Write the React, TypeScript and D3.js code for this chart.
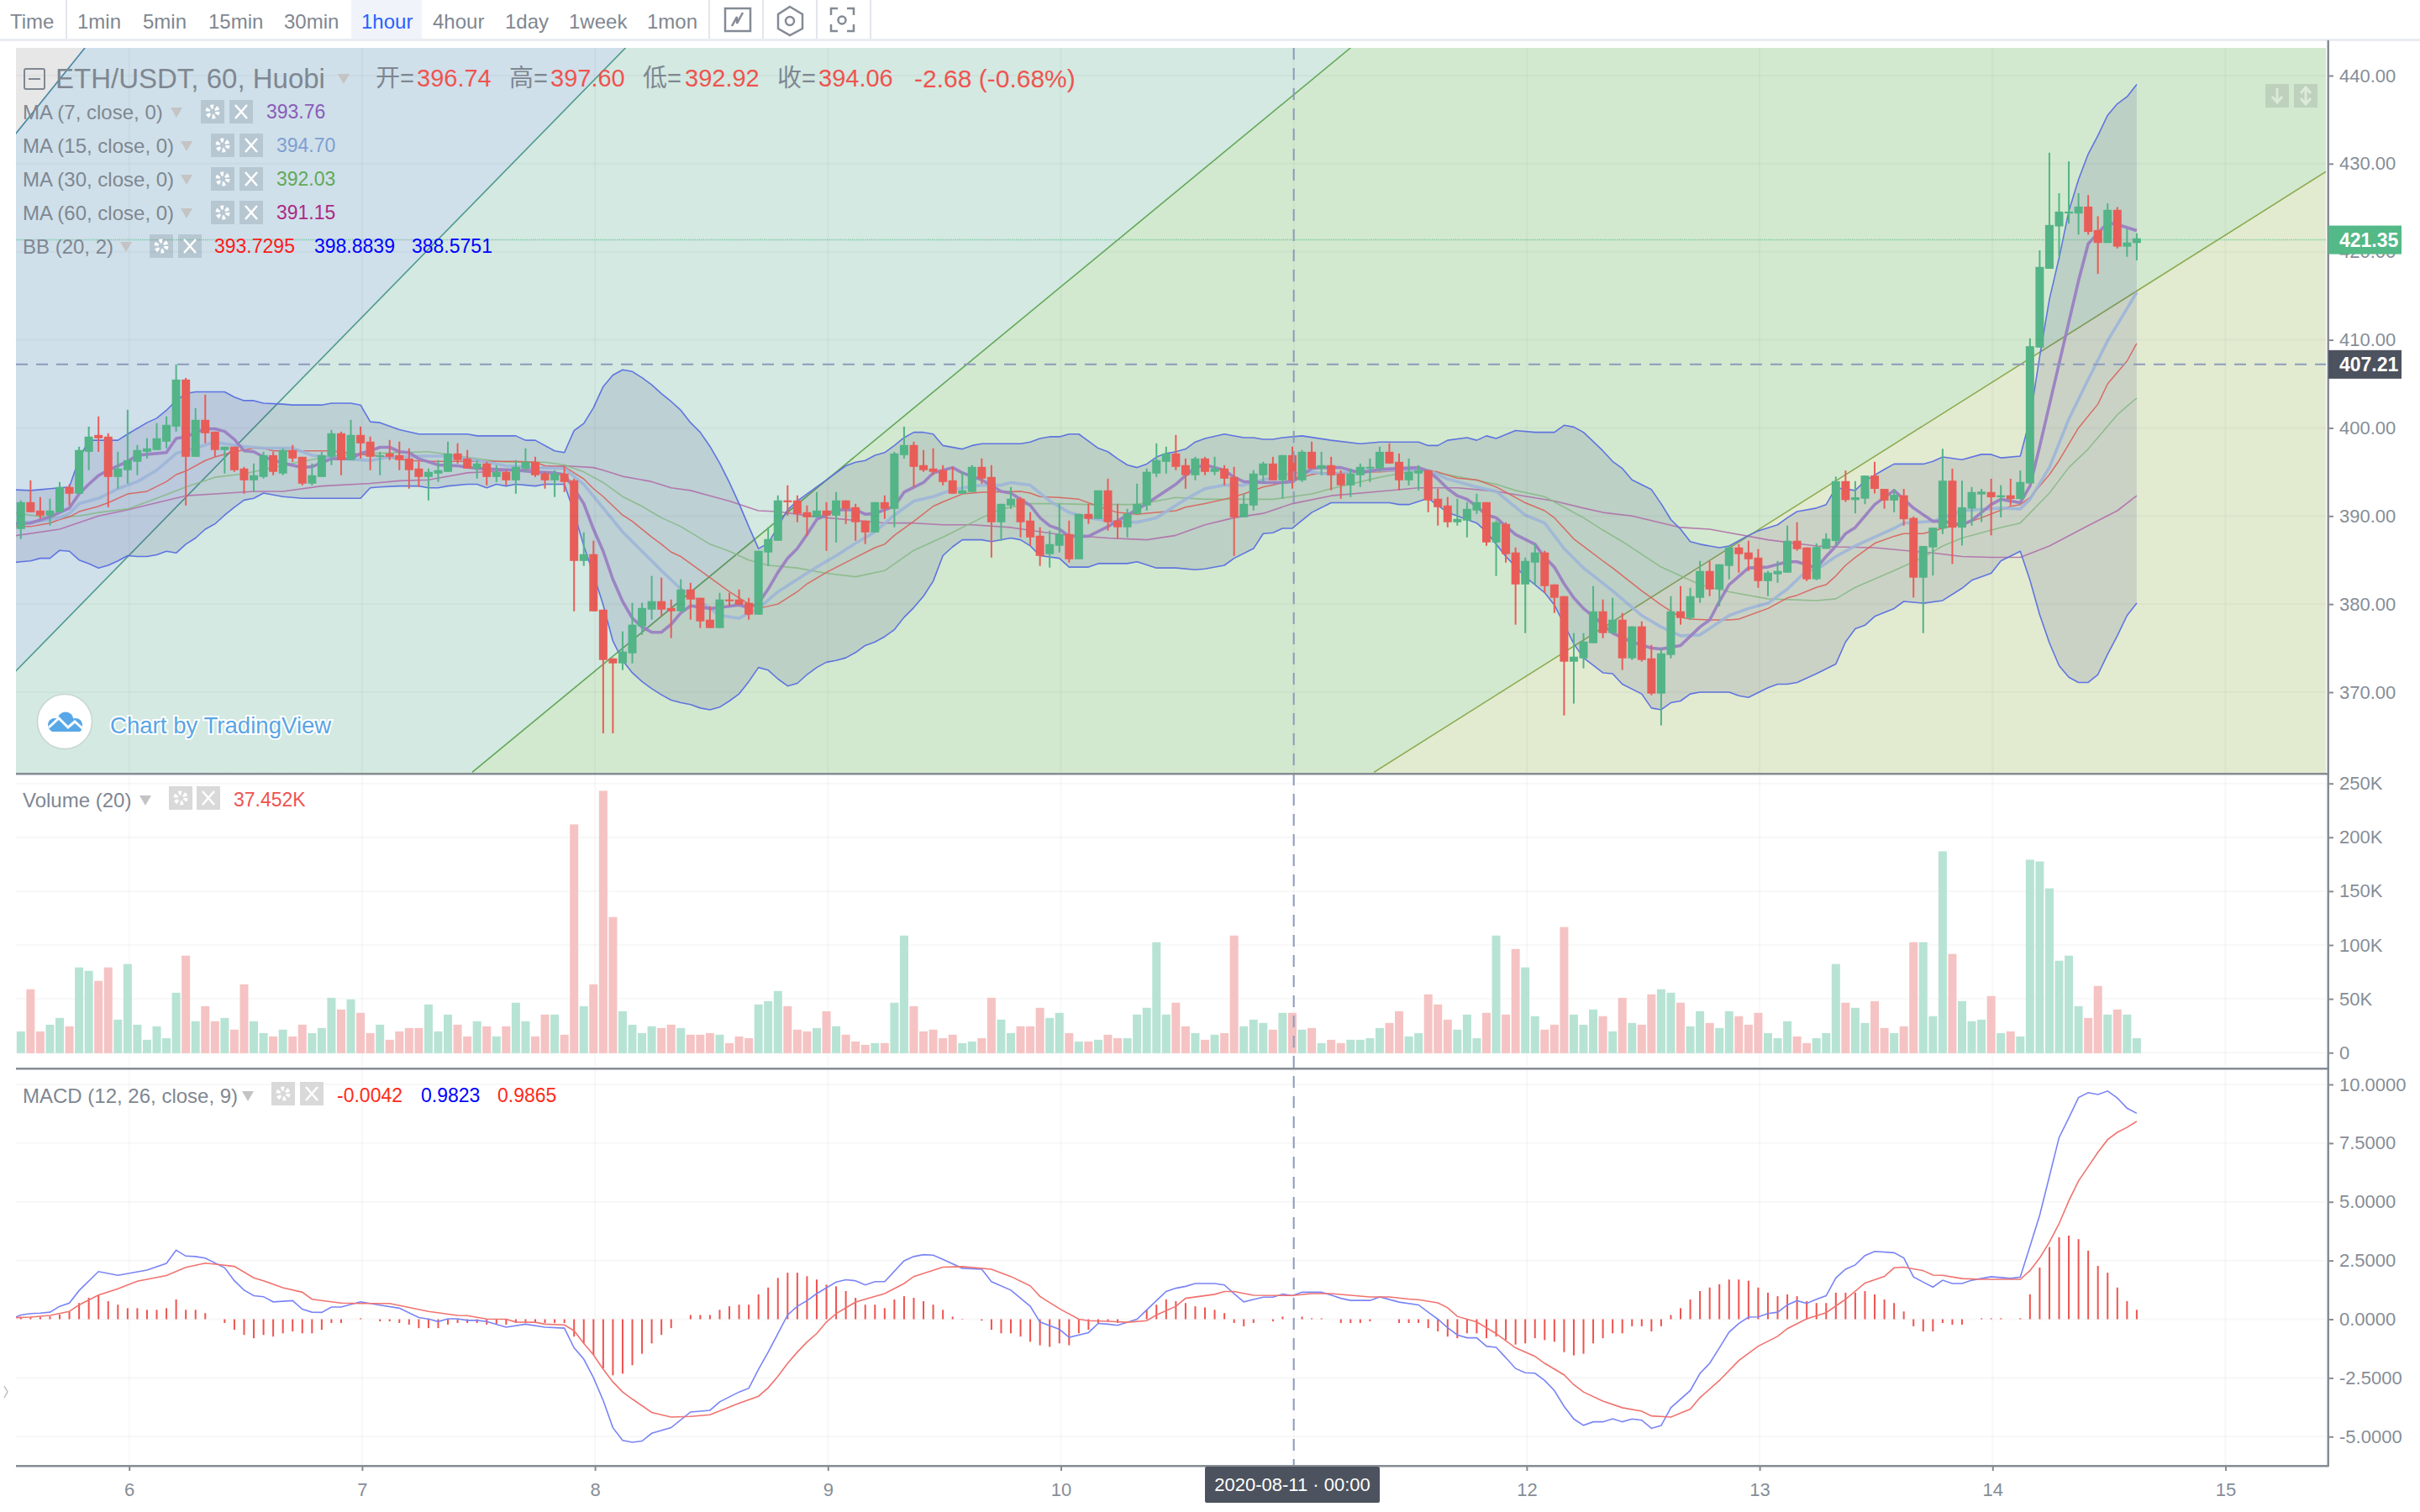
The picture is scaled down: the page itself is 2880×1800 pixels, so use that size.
import React, { useEffect, useRef } from "react";
import * as d3 from "d3";

type Pt = [number, number];

const toolbarLabels = ["Time", "1min", "5min", "15min", "30min", "1hour", "4hour", "1day", "1week", "1mon"];
const dayTicks = [6, 7, 8, 9, 10, 11, 12, 13, 14, 15];
const priceTicks = [370, 380, 390, 400, 410, 420, 430, 440];
const volumeTicks = [0, 50, 100, 150, 200, 250];
const macdTicks = [-5, -2.5, 0, 2.5, 5, 7.5, 10];

const opens = [
  388.52,391.57,390.62,390.05,390.43,393.29,392.53,397.29,399.20,399.01,
  394.43,395.20,396.15,397.29,397.49,398.44,400.15,405.49,396.72,400.92,
  399.58,397.49,397.87,395.39,394.05,394.43,396.91,394.82,397.49,396.72,
  393.67,394.43,396.72,399.39,396.34,399.20,398.44,396.72,397.10,396.91,
  396.53,395.39,394.43,394.82,395.01,397.10,396.53,395.39,395.96,394.43,
  395.01,394.05,395.39,396.15,394.82,394.05,394.82,394.05,384.90,385.67,
  379.37,373.84,373.27,374.41,377.47,379.37,380.33,379.56,379.18,381.66,
  380.71,378.23,377.28,380.52,380.52,380.14,378.80,385.86,387.19,391.77,
  391.77,390.43,389.86,390.62,390.05,391.77,391.00,389.48,388.14,391.57,
  390.81,396.91,398.06,395.77,395.39,395.20,394.05,392.53,392.72,395.58,
  394.43,389.29,391.19,391.96,389.48,387.76,385.67,386.62,387.95,385.09,
  390.24,389.67,392.91,389.48,388.72,390.24,391.19,394.82,396.15,397.10,
  395.77,394.63,396.53,395.01,395.39,394.43,389.86,391.19,394.63,395.96,
  394.05,396.91,394.05,397.29,395.39,395.77,394.82,393.48,394.63,395.39,
  395.39,397.29,396.15,394.05,394.82,395.20,391.96,391.19,389.29,389.48,
  390.62,391.57,387.00,389.10,385.86,382.23,384.71,385.86,382.23,380.90,
  373.46,373.84,375.56,379.18,376.70,378.23,373.84,377.47,373.84,369.84,
  374.22,379.18,378.42,380.71,383.76,381.66,384.33,386.43,385.86,385.28,
  382.61,383.38,383.57,387.19,386.43,382.82,386.27,387.16,393.96,391.81,
  391.97,394.59,393.08,391.76,392.35,389.78,383.00,386.43,388.57,394.01,
  388.68,390.84,392.45,392.72,392.13,392.35,391.93,393.70,409.13,418.07,
  422.88,424.35,424.35,425.13,422.46,421.00,424.76,420.58,421.00,
];
const highs = [
  391.77,394.05,392.15,391.96,393.86,393.61,397.87,400.15,401.30,399.39,
  397.29,402.06,398.06,398.82,400.54,401.30,407.21,405.68,402.25,403.78,
  399.58,397.87,397.87,395.58,395.96,397.29,397.29,397.68,398.06,396.72,
  395.96,397.29,399.77,399.58,400.92,400.15,399.01,397.29,398.63,398.44,
  397.68,396.15,395.39,396.34,398.44,398.25,397.49,396.34,396.15,395.77,
  395.20,396.34,397.68,396.72,395.01,395.20,395.58,394.24,388.14,387.19,
  379.37,373.84,376.90,380.14,380.14,383.19,383.00,380.52,382.81,382.42,
  380.71,379.76,381.28,381.28,381.66,380.71,386.05,388.72,392.34,393.48,
  392.34,391.19,392.72,391.57,392.72,391.77,391.38,389.48,391.57,392.34,
  397.29,400.15,398.44,397.49,397.68,395.77,395.58,395.01,395.77,396.53,
  395.77,391.38,393.29,392.15,390.43,388.72,388.33,391.38,389.48,390.24,
  391.38,392.91,394.24,391.38,390.81,393.67,395.39,398.25,397.87,399.20,
  396.53,396.72,396.72,396.72,395.77,395.58,392.53,395.20,396.15,396.72,
  396.91,397.87,397.49,398.44,397.29,396.72,395.20,395.39,395.96,396.53,
  397.87,398.25,397.10,396.53,395.77,395.20,393.10,392.15,391.96,391.57,
  392.53,391.57,389.48,389.29,386.43,385.28,386.81,386.05,382.23,380.90,
  376.70,376.70,382.04,380.52,380.71,378.99,377.47,378.04,375.37,374.99,
  380.90,382.04,381.85,384.90,384.90,384.52,386.62,386.81,387.19,386.24,
  383.76,384.90,388.91,389.29,386.43,386.90,388.05,394.48,395.16,393.96,
  394.59,396.15,393.08,393.08,393.08,389.94,386.59,388.67,397.63,395.38,
  394.01,393.29,393.08,394.23,393.50,394.23,395.17,410.17,420.16,431.25,
  426.65,430.26,426.65,426.44,424.03,425.50,425.08,422.57,422.10,
];
const lows = [
  387.38,390.43,389.67,388.91,390.43,391.19,392.53,395.20,397.29,391.00,
  393.10,393.67,394.63,396.53,397.49,397.68,399.58,391.19,396.72,398.25,
  396.72,394.82,395.01,392.53,392.72,394.24,394.63,394.63,396.15,393.48,
  393.48,394.43,395.77,394.63,396.34,396.53,395.20,394.63,396.34,395.20,
  393.10,393.29,391.77,393.86,395.01,395.96,395.39,394.24,393.48,393.86,
  393.48,392.53,395.01,394.43,393.10,392.15,392.72,379.18,384.33,379.18,
  365.33,365.33,372.51,373.27,376.51,378.23,378.61,376.13,379.18,378.23,
  377.28,377.28,377.28,379.76,379.95,378.23,378.80,384.33,387.19,390.05,
  389.29,387.76,389.86,386.05,387.00,389.10,387.19,386.81,388.14,389.67,
  388.72,396.53,393.29,395.01,394.63,393.48,392.53,392.53,392.72,393.67,
  385.28,387.19,390.81,387.57,386.62,384.33,384.14,385.86,384.71,385.09,
  389.10,389.67,388.33,387.38,387.57,390.24,390.62,394.43,394.82,395.20,
  393.10,394.05,394.63,394.63,393.48,385.47,389.86,390.62,393.86,394.05,
  391.96,393.10,393.86,395.39,394.63,392.91,391.96,392.15,393.29,393.86,
  395.01,395.96,392.91,393.48,392.91,390.43,388.91,388.72,388.91,387.57,
  390.24,386.62,383.19,384.71,377.66,376.70,382.23,381.28,378.99,367.36,
  368.70,372.70,375.56,376.13,376.70,372.51,373.65,373.46,369.65,366.22,
  373.84,377.66,378.23,380.14,380.90,379.76,382.81,383.57,383.76,381.85,
  380.90,382.42,383.57,386.05,382.61,382.71,386.27,386.64,391.60,390.30,
  391.34,392.56,390.83,390.42,388.90,380.74,376.70,383.24,387.95,384.56,
  386.65,388.90,389.32,387.80,389.84,391.20,391.88,393.70,409.13,418.07,
  419.43,423.20,421.94,421.94,417.50,421.00,420.37,419.43,419.02,
];
const closes = [
  391.57,390.43,390.05,390.62,393.29,392.53,397.49,399.01,398.82,394.43,
  395.39,396.34,397.49,397.68,398.82,400.35,405.49,396.72,400.92,399.39,
  397.49,397.87,395.20,394.05,394.63,396.91,395.01,397.49,396.53,393.67,
  394.63,396.91,399.39,396.34,399.20,398.25,396.72,396.91,396.72,396.34,
  395.20,394.43,395.01,395.20,397.10,396.34,395.39,395.96,394.43,395.01,
  394.05,395.58,396.15,394.63,394.05,394.82,393.86,384.90,385.67,379.18,
  373.65,373.27,374.60,377.66,379.56,380.33,379.37,379.18,381.66,380.52,
  378.04,377.28,380.52,380.33,379.95,378.80,386.05,387.38,391.77,391.57,
  390.24,389.86,390.62,390.05,391.77,390.81,389.29,388.14,391.57,390.81,
  397.10,398.06,395.58,395.20,395.01,393.86,392.53,392.91,395.58,394.24,
  389.29,391.38,391.96,389.29,387.57,385.47,386.81,387.95,385.09,390.24,
  389.67,392.91,389.29,388.72,390.24,391.38,395.01,396.34,397.10,395.58,
  394.63,396.53,395.01,395.39,394.24,389.86,391.38,394.82,395.96,394.05,
  396.91,394.05,397.29,395.39,395.77,394.63,393.48,394.82,395.58,395.58,
  397.29,395.96,394.05,395.01,395.20,391.77,391.00,389.29,389.67,390.81,
  391.57,387.00,389.29,385.67,382.23,384.90,385.86,382.04,380.71,373.46,
  374.03,375.75,379.18,376.70,378.23,373.84,377.47,373.65,369.84,374.41,
  379.18,378.42,380.90,383.76,381.66,384.52,386.43,385.67,385.09,382.61,
  383.57,383.76,387.19,386.24,382.81,386.48,387.42,393.96,391.81,392.13,
  394.59,393.08,391.76,392.40,389.63,383.00,386.59,388.67,394.01,388.68,
  390.99,392.72,392.77,392.13,392.35,391.93,393.86,409.28,418.28,423.04,
  424.56,424.56,425.13,422.25,421.00,424.76,420.58,421.05,421.52,
];

// thousands
const volumes = [
  19.8,58.9,19.8,26,32.3,24.5,79.2,76,66.7,79.2,
  30.7,82.3,26,12,24.5,13.5,55.7,90.1,29.2,43.2,
  29.2,32.3,21.4,63.5,29.2,18.2,15.1,21.4,15.1,26,
  18.2,22.9,51,40.1,49.5,37,18.2,26,12,19.8,
  22.9,22.9,44.8,19.8,35.4,26,15.1,29.2,24.5,15.1,
  24.5,46.4,29.2,15.1,35.4,35.4,16.7,212,43.2,63.5,
  243.2,126,38.5,26,18.2,24.5,22.9,26,22.9,16.7,
  16.7,18.2,16.7,8.9,15.1,13.5,44.8,47.9,57.3,43.2,
  21.4,19.8,22.9,38.5,24.5,16.7,10.4,7.3,8.9,8.9,
  46.4,108.8,43.2,19.8,21.4,13.5,16.7,8.9,10.4,13.5,
  51,30.7,18.2,24.5,24.5,41.7,32.3,37,18.2,10.4,
  10.4,12,16.7,13.5,13.5,35.4,41.7,102.6,35.4,46.4,
  24.5,18.2,12,16.7,18.2,108.8,24.5,30.7,27.6,21.4,
  37,37,21.4,22.9,8.9,12,8.9,12,12,13.5,
  22.9,27.6,38.5,15.1,18.2,54.2,44.8,30.7,21.4,35.4,
  13.5,37,108.8,35.4,96.3,79.2,33.9,21.4,26,116.7,
  35.4,26,40.1,33.9,19.8,51,27.6,26,54.2,58.9,
  55.7,46.4,24.5,38.5,27.6,22.9,38.5,33.9,26,37,
  18.2,13.5,29.2,15.1,8.9,13.5,18.2,82.3,46.4,41.7,
  27.6,47.9,22.9,18.2,24.5,102.6,102.6,33.9,187,91.7,
  47.9,29.2,30.7,52.6,18.2,19.8,15.1,179.2,177.6,152.6,
  85.4,90.1,43.2,32.3,62,35.4,40.1,35.4,13.5,
];

const macdHist = [
  .09,.09,.09,.12,.2,.33,.69,.91,1.04,.77,
  .62,.47,.47,.4,.4,.47,.84,.4,.4,.26,
  0,-.16,-.45,-.67,-.81,-.67,-.74,-.6,-.52,-.6,
  -.6,-.45,-.16,-.16,0,.04,0,-.09,-.09,-.16,
  -.23,-.38,-.38,-.38,-.23,-.16,-.16,-.16,-.23,-.23,
  -.23,-.16,-.16,-.16,-.16,-.16,-.16,-.74,-1.03,-1.52,
  -2.1,-2.39,-2.32,-1.96,-1.47,-1.03,-.67,-.38,0,.18,
  .18,.18,.4,.55,.62,.62,1.06,1.35,1.76,1.98,
  1.98,1.83,1.69,1.47,1.4,1.2,.91,.62,.62,.47,
  .84,.98,.91,.77,.62,.4,.11,.02,0,-.06,
  -.45,-.6,-.6,-.74,-.96,-1.11,-1.18,-1.03,-1.11,-.6,
  -.45,-.16,-.09,-.16,0,0,.4,.62,.84,.77,
  .69,.55,.5,.4,.26,-.16,-.3,-.16,0,-.09,
  .11,0,.11,.04,.04,0,-.16,-.16,-.16,-.09,
  0,0,-.16,-.16,-.16,-.38,-.52,-.74,-.81,-.6,
  -.6,-.81,-.74,-.89,-1.08,-1.03,-.81,-.89,-.96,-1.4,
  -1.54,-1.47,-1.03,-.81,-.6,-.6,-.3,-.3,-.52,-.3,
  .18,.47,.84,1.2,1.35,1.49,1.69,1.69,1.64,1.35,
  1.13,.98,1.06,.98,.77,.69,.69,1.13,1.13,1.13,
  1.2,1.06,.84,.69,.33,-.3,-.52,-.52,-.16,-.23,
  -.23,0,.04,.04,.04,0,.04,1.06,2.2,3.07,
  3.49,3.56,3.41,2.92,2.27,1.98,1.35,.77,.4,
];

const macdLine: Pt[] = [
  [-1,0],[0,.18],[1,.24],[2,.26],[3,.3],[4,.55],[5,.69],[6,1.22],[8,2.03],[10,1.87],[13,2.09],[15,2.38],[16,2.94],[17,2.69],[18,2.67],[19,2.6],[21,2.19],[22,1.64],[23,1.24],[24,1],[25,.96],[26,.74],[28,.79],[29,.43],[30,.3],[31,.29],[32,.52],[33,.52],[35,.74],[37,.6],[39,.47],[41,.07],[42,.01],[43,-.1],[44,.02],[45,.02],[46,-.05],[47,-.05],[48,-.1],[50,-.34],[52,-.21],[54,-.34],[56,-.38],[57,-1.22],[58,-1.7],[59,-2.49],[60,-3.46],[61,-4.62],[62,-5.16],[63,-5.24],[64,-5.19],[65,-4.86],[67,-4.62],[69,-3.95],[71,-3.88],[72,-3.52],[74,-3.1],[75,-2.94],[76,-2.13],[77,-1.4],[78,-.61],[79,.18],[80,.55],[81,.79],[82,1.09],[84,1.58],[85,1.68],[86,1.64],[87,1.46],[88,1.6],[89,1.6],[91,2.49],[92,2.67],[93,2.75],[94,2.73],[95,2.55],[97,2.17],[99,2.13],[100,1.6],[102,1.24],[104,.55],[105,-.12],[107,-.43],[108,-.77],[110,-.57],[111,-.18],[112,-.21],[113,-.26],[115,0],[116,.4],[117,.79],[118,1.18],[119,1.32],[120,1.4],[121,1.52],[123,1.52],
  [124,1.46],[125,1.09],[126,.74],[127,.84],[128,.94],[129,.94],[130,1.07],[131,1],[132,1.15],[134,1.15],[135,1.03],[136,.89],[137,.8],[139,.8],[140,.95],[142,.73],[144,.61],[145,.3],[146,0],[147,-.36],[148,-.67],[149,-.79],[150,-.79],[151,-1.15],[152,-1.2],[153,-1.64],[154,-2.1],[155,-2.28],[156,-2.3],[157,-2.61],[158,-3.04],[159,-3.71],[160,-4.25],[161,-4.52],[162,-4.37],[163,-4.37],[164,-4.24],[165,-4.37],[166,-4.25],[167,-4.3],[168,-4.65],[169,-4.53],[170,-3.77],[172,-3.04],[173,-2.31],[174,-1.88],[175,-1.22],[176,-.55],[177,-.18],[178,.09],[179,.1],[180,.24],[181,.3],[182,.61],[183,.79],[184,.67],[185,.85],[186,1],[187,1.76],[188,2.13],[189,2.31],[190,2.71],[191,2.89],[193,2.83],[194,2.61],[195,1.8],[196,1.58],[197,1.37],[198,1.66],[199,1.52],[200,1.52],[201,1.66],[203,1.81],[205,1.74],[206,1.8],[207,3.1],[208,4.43],[209,6.08],[210,7.74],[211,8.57],[212,9.44],[213,9.65],[214,9.57],[215,9.72],[216,9.42],[217,8.99],[218,8.77],
];
const macdSignal: Pt[] = [
  [-1,.06],[1,.09],[3,.16],[5,.33],[6,.61],[8,1.03],[10,1.3],[12,1.62],[13,1.7],[15,1.86],[17,2.21],[19,2.39],[22,2.25],[24,1.76],[25,1.64],[27,1.34],[29,1.15],[30,.85],[33,.69],[35,.67],[38,.67],[42,.33],[45,.16],[46,.15],[48,.01],[50,0],[51,-.12],[53,-.13],[54,-.21],[56,-.24],[57,-.49],[58,-1.03],[59,-1.52],[60,-2.13],[61,-2.67],[62,-3.1],[63,-3.4],[65,-3.97],[67,-4.17],[69,-4.14],[71,-4.07],[74,-3.58],[76,-3.28],[77,-2.92],[78,-2.43],[79,-1.88],[80,-1.4],[81,-.97],[82,-.61],[83,-.12],[84,.24],[86,.73],[89,1.09],[91,1.52],[92,1.82],[95,2.22],[97,2.24],[100,2.13],[102,1.82],[104,1.42],[105,.97],[107,.45],[109,0],[110,-.06],[112,-.09],[114,-.13],[116,-.06],[117,.18],[119,.55],[120,.89],[123,1.06],
  [124,1.18],[125,1.18],[127,1.02],[130,1.01],[131,1.01],[133,1.09],[135,1.09],[137,1.02],[139,.95],[141,.95],[143,.86],[144,.83],[146,.7],[147,.49],[148,.12],[150,-.12],[152,-.61],[154,-1.22],[156,-1.58],[157,-1.88],[159,-2.37],[160,-2.79],[161,-3.1],[163,-3.49],[165,-3.77],[167,-3.92],[168,-4.12],[170,-4.17],[172,-3.83],[173,-3.34],[175,-2.61],[177,-1.76],[179,-1.15],[181,-.73],[182,-.4],[184,.02],[186,.28],[188,.85],[190,1.54],[192,1.82],[193,2.19],[194,2.22],[196,2.07],[197,1.88],[198,1.87],[200,1.73],[202,1.7],[206,1.7],[207,2.07],[208,2.61],[209,3.28],[210,4.07],[211,5.04],[212,5.89],[213,6.5],[214,7.11],[215,7.65],[216,7.96],[217,8.17],[218,8.43],
];

const bbUpper: Pt[] = [
  [-1,393],[1,392.9],[2,393],[3,393.1],[5,393.3],[6,396.5],[7,398.6],[10,398.6],[11,399.3],[13,400.6],[14,401.1],[15,402],[16,403.1],[17,403.9],[18,404.1],[21,404.1],[22,403.5],[23,403.1],[24,403.1],[25,402.8],[27,402.7],[28,402.6],[31,402.6],[32,402.8],[34,402.8],[35,402.6],[36,400.7],[37,400.6],[39,399.8],[41,399.3],[46,399.3],[47,399.1],[51,399.1],[52,398.6],[53,398.6],[55,397.4],[56,397.2],[57,399.7],[58,400.5],[59,402.3],[60,404.7],
  [61,406],[62,406.6],[63,406.4],[64,405.7],[65,404.9],[66,403.9],[67,403],[68,402],[69,400.6],[70,399.5],[71,397.9],[72,396],[73,393.8],[74,391.4],[75,388.8],[76,386.3],[77,386.9],[78,388.8],[79,390.7],[80,391.7],[82,393.3],[83,394.1],[85,395.7],[86,396.1],[87,396.3],[88,396.9],[89,397.2],[90,398],[91,398.9],[92,399.5],[93,399.5],[94,399.3],[95,398],[97,397.6],[98,398],[99,398.2],[103,398.2],[104,398.4],[105,398.8],[106,399],[107,399],[108,399.3],[109,399.3],[110,398.5],[111,397.7],[112,397.3],[113,396.5],[114,395.8],[115,395.5],[116,395.9],[117,396.7],[118,397.1],[119,397.3],[120,397.6],[121,398.4],[122,398.8],
  [124,399.3],[126,398.9],[127,398.9],[128,398.7],[129,398.7],[130,398.9],[132,399.1],[135,398.6],[138,398.2],[140,398.4],[144,398.4],[145,398],[146,398],[147,398.6],[149,398.9],[150,398.6],[151,399.1],[152,398.8],[154,399.7],[156,399.5],[158,399.5],[159,400.3],[160,400.1],[161,399.5],[163,397.4],[164,396.2],[165,395.4],[166,394.1],[168,393],[169,391.4],[170,389.6],[171,388.5],[172,387.1],[173,386.8],[175,386.4],[176,386.6],[178,387.8],[179,388.3],[181,389],[182,389.8],[183,390.5],[185,390.9],
  [186,391.3],[187,393.2],[189,392.9],[190,394],[192,395.3],[193,395.9],[196,395.9],[197,396.2],[198,396.7],[200,396.4],[202,397],[203,397],[204,396.6],[206,396.8],[207,401],[208,408.1],[209,414.6],[210,419.3],[211,424.6],[212,428.2],[213,431.1],[214,433.2],[215,435.5],[216,436.8],[217,437.6],[218,439],
];
const bbLower: Pt[] = [
  [-1,384.7],[0,384.8],[1,384.9],[2,385.2],[3,385.2],[4,386.1],[5,386],[6,385],[7,384.6],[8,384.1],[9,384.4],[10,384.9],[11,385.5],[12,385.4],[13,385.4],[14,385.6],[15,386],[16,385.8],[17,386.8],[18,387.5],[19,388.5],[20,389.1],[21,390.1],[22,391],[23,391.8],[24,392],[25,392.6],[27,392.2],[29,392],[35,392],[36,393.2],[37,393.3],[39,393.4],[41,393.4],[42,393.2],[43,393.2],[44,393.4],[46,393.6],[47,393.6],[48,393.2],[49,393.6],[50,393.4],[51,393.6],[53,393.4],[54,393.6],[56,393.6],[57,390.4],[58,386.6],[59,383.4],[60,379.9],
  [61,375.8],[62,373.6],[63,372.2],[64,371.2],[65,370.4],[66,369.7],[67,369.1],[68,368.8],[69,368.6],[70,368.2],[71,368],[72,368.3],[73,369],[74,369.8],[75,371.2],[76,372.8],[77,372.5],[78,371.5],[79,370.7],[80,371],[81,372],[82,372.8],[83,373.4],[84,373.6],[85,373.9],[86,374.5],[87,375.3],[88,375.7],[89,376.3],[90,377.1],[91,378.5],[92,379.6],[93,380.9],[94,382.6],[95,385.5],[96,386.5],[97,387.3],[99,387.3],[100,387.1],[102,387.5],[103,387.3],[104,386.6],[105,385.5],[107,385.2],[108,384.2],[110,384.2],[111,384.6],[114,384.6],[115,384.8],[117,384.1],[119,384.1],[121,383.9],[122,384],
  [124,384.4],[125,385.2],[127,386.3],[128,388],[129,388.1],[130,388.6],[131,388.6],[133,390.4],[135,391.5],[141,391.5],[142,391.3],[143,391.3],[145,392],[147,390.4],[149,389.6],[150,389.2],[151,388.2],[153,385.4],[155,383.1],[157,381.3],[158,379.9],[159,377.7],[160,375.5],[161,373.9],[163,372.2],[164,372.1],[165,370.9],[167,369.8],[168,368.2],[169,368],[170,368.8],[171,369],[172,369.8],[173,370],[176,370],[177,369.6],[178,369.4],[180,370.5],[181,370.9],[182,370.9],[183,371.1],[185,372.1],
  [187,373.2],[188,375.7],[189,377.2],[190,377.6],[191,378.6],[193,379.5],[194,380.3],[196,380.1],[198,380.4],[200,381.8],[201,382.7],[203,383.5],[204,384.9],[206,386],[207,382.7],[208,378.8],[209,375.6],[210,373],[211,371.7],[212,371.1],[213,371.1],[214,372],[215,374.3],[216,376.4],[217,378.7],[218,380.1],
];
const bbBasis: Pt[] = [
  [-1,388.8],[1,388.8],[2,389],[3,389.2],[4,389.6],[5,389.9],[6,390.5],[8,391.1],[9,391.5],[11,392.5],[13,392.8],[15,393.9],[16,394.7],[17,395.1],[19,396.3],[20,396.7],[22,397.3],[24,397.7],[25,397.7],[26,397.4],[32,397.4],[35,397],[37,396.8],[40,396.3],[42,396.2],[46,396.2],[48,396.2],[51,396.2],[53,396.1],[54,395.7],[56,395.6],[57,394.9],[58,394.2],[59,393.1],[60,392.2],
  [62,390.1],[63,389.4],[65,387.6],[66,386.8],[67,385.9],[68,385.4],[69,384.6],[71,383],[73,381.4],[75,380],[76,379.5],[78,380],[80,381.4],[81,382.3],[83,383.6],[86,385.3],[88,386.4],[89,386.8],[90,387.8],[92,389.4],[94,391.1],[95,391.6],[97,392.5],[99,392.7],[103,392.8],[104,392.6],[105,392.2],[107,392.1],[109,391.9],[111,391.1],[113,390.4],[115,390.2],[117,390.4],[119,390.6],[120,391],[122,391.4],
  [124,391.9],[126,392.5],[128,393.3],[129,393.5],[131,394.1],[133,394.7],[134,394.9],[140,395],[144,395.3],[146,395],[148,394.3],[150,394.1],[152,393.3],[155,391.5],[157,390.6],[158,389.8],[160,387.4],[163,384.9],[164,384.1],[167,381.5],[169,379.9],[171,378.5],[172,378.3],[174,378.2],[176,378.2],[177,378.3],[180,379.5],[182,380.7],[183,381],[185,381.9],
  [186,382.2],[187,383.2],[188,384.4],[189,385.3],[191,386.9],[193,387.7],[194,388],[196,388],[198,388.6],[199,388.9],[200,389],[202,389.8],[205,391.1],[206,391.3],[207,392.1],[209,394.7],[210,396.3],[212,400],[214,402.7],[215,405],[217,407.6],[218,409.6],
];
const ma7: Pt[] = [
  [-1,389.1],[1,389.2],[3,389.9],[5,390.9],[6,392.5],[7,393.6],[8,394.6],[9,395.2],[11,396.2],[12,396.9],[13,397],[15,397.2],[16,398.8],[17,399],[19,399.9],[20,399.9],[21,399.6],[22,398.7],[23,397.4],[24,397.3],[25,396.7],[27,396],[29,395.5],[30,395.6],[32,396.5],[34,396.5],[35,397.1],[36,397.4],[37,397.8],[38,397.8],[39,397.3],[40,397.2],[41,396.5],[43,395.8],[45,395.7],[47,395.4],[51,395.2],[53,395],[55,394.9],[56,394.7],[57,393.1],[58,391.4],[59,388.5],[60,386],
  [61,382.8],[62,380.3],[63,378.4],[64,377.4],[65,376.8],[66,376.8],[67,377.7],[68,379],[69,379.8],[71,379.5],[72,379.6],[74,379.9],[75,379.6],[76,380.1],[77,381.7],[78,383.6],[79,385.2],[80,386.3],[81,387.9],[82,389.6],[84,390.7],[86,390.7],[87,390.2],[88,390.3],[90,391.1],[91,392.7],[93,393.8],[94,394.9],[96,395.5],[97,394.9],[99,394.1],[101,392.8],[102,392.6],[104,391.2],[105,389.8],[106,388.9],[107,388.5],[108,387.7],[110,387.7],[112,388.8],[114,390.1],[116,391.4],[119,393.6],[120,394.6],[121,395.5],[122,395.8],
  [124,395.2],[125,394.4],[126,393.9],[128,393.8],[130,393.8],[131,393.9],[133,395.4],[134,395.5],[136,395.5],[138,394.9],[140,395.3],[142,395.4],[144,395.5],[145,395.1],[146,394.2],[147,393.1],[148,392.3],[149,391.9],[150,391.1],[151,390.1],[152,389.8],[154,387.9],[156,386.8],[157,385.3],[158,384.2],[159,382.3],[160,380.7],[161,379.5],[163,377.7],[164,376.7],[166,375.7],[168,375],[169,374.9],[171,375.3],[173,377.4],[174,378.2],[175,380.3],[176,382.2],[178,384.1],[180,384.2],[182,384.8],[183,384.8],[185,384.1],
  [186,385.4],[187,386.6],[188,388],[189,388.7],[191,391.3],[193,392.9],[194,391.9],[195,390.9],[197,389.4],[198,389.4],[200,389],[201,389.5],[203,391.3],[204,391.9],[206,391.5],[207,393.4],[208,397.9],[209,402.6],[210,407.3],[211,412],[212,416.7],[213,420.9],[215,423.3],[216,423.1],[218,422.4],
];
const ma15: Pt[] = [
  [-1,389.2],[2,389.4],[4,389.8],[5,390.3],[6,391.4],[8,392],[10,393.1],[12,393.9],[14,395.2],[16,397.1],[18,397.7],[20,398.4],[21,398.2],[23,397.9],[25,397.7],[28,397.7],[30,396.9],[32,396.6],[36,396.3],[38,396.7],[41,396.8],[44,396.8],[46,396.5],[50,395.7],[53,395.5],[56,395.4],[58,393.6],[60,390.9],
  [62,388.2],[64,386],[66,383.8],[68,381.7],[70,380.3],[72,378.7],[74,378.4],[76,379.5],[78,381.4],[80,382.8],[82,384.2],[84,385.5],[86,386.9],[88,388.2],[90,390.1],[92,391.7],[94,392.2],[96,393],[99,393.5],[101,393.5],[102,393.8],[104,393.5],[106,391.7],[108,390.4],[110,389.8],[113,389.3],[115,389.3],[117,389.8],[120,391.9],[122,393.1],
  [124,393.5],[126,393.5],[128,394.1],[130,394.7],[133,395],[135,394.7],[138,395.2],[142,395.2],[145,395.2],[147,394.2],[150,393.3],[152,392.8],[155,390.1],[157,389.2],[159,386.3],[161,384.1],[164,381.5],[167,378.7],[169,377.4],[171,376.4],[173,376.5],[176,378.7],[178,379.5],[180,380.1],[182,381.7],[184,383.8],[185,383.9],
  [187,385.4],[189,386.6],[193,388.6],[194,389.2],[197,389.4],[200,390.6],[204,390.9],[206,390.8],[207,391.9],[209,395.5],[211,401],[213,405.5],[215,409.9],[218,415.4],
];
const ma30: Pt[] = [
  [-1,390.4],[1,390.1],[3,389.8],[6,390],[8,390.4],[11,390.8],[14,392],[17,393.3],[20,394.4],[23,394.8],[26,395.5],[29,396.2],[32,396.8],[36,397.1],[42,397.3],[47,396.5],[50,396.1],[54,396.1],[56,395.8],[58,395],[60,393.8],
  [62,392.2],[64,391.1],[66,389.8],[68,388.8],[71,386.8],[73,386],[75,385],[77,384.4],[80,384.1],[83,383.5],[86,383.1],[89,383.8],[92,386.1],[95,387.6],[99,389.8],[101,390.8],[104,391.4],[107,391.4],[110,391.3],[115,391.3],[117,391.7],[119,392.1],[122,391.9],
  [129,391.9],[133,392.5],[135,393.1],[140,394.4],[144,395.2],[147,394.7],[152,393.6],[154,392.9],[157,392.2],[161,389.8],[163,388.4],[165,387.1],[169,384.2],[173,382.2],[176,381.4],[180,380.6],[185,380.4],
  [187,380.6],[189,381.9],[193,383.8],[196,385.3],[198,386.6],[200,387.5],[204,388.7],[206,389.2],[209,392.6],[211,395.5],[213,397.6],[215,400.2],[216,401.5],[218,403.4],
];
const ma60: Pt[] = [
  [-1,387.7],[4,388.5],[8,390],[11,390.7],[14,391.5],[17,392.3],[20,392.5],[24,392.8],[27,392.8],[31,393.4],[36,393.7],[39,394],[42,394.1],[46,394.9],[51,395.2],[56,395.7],[59,395.5],[60,395.2],
  [62,394.5],[65,393.9],[67,393.2],[69,392.9],[71,392.3],[73,391.7],[76,390.6],[78,390.5],[82,389.9],[86,389.5],[89,389.2],[92,389.2],[95,389],[98,389],[102,388.7],[107,387.9],[112,387.5],[116,387.3],[119,387.8],[122,389],
  [125,389.8],[128,390.3],[131,391.4],[135,392.3],[140,392.8],[144,393.2],[148,393.2],[152,392.8],[158,391.7],[161,390.9],[163,390.4],[166,390],[171,388.7],[174,388.5],[180,387.3],[185,386.6],
  [187,386.5],[191,386.4],[194,386.1],[197,385.8],[200,385.4],[203,385.3],[206,385.3],[209,386.6],[213,388.9],[216,390.6],[218,392.3],
];

// fan drawing: each ray as two [candle index, price] ends
const fanRays: [Pt, Pt][] = [
  [[-0.6, 433.3], [6.6, 443.15]],
  [[-0.6, 372.3], [62.3, 443.15]],
  [[46.5, 360.9], [137, 443.15]],
  [[139.4, 360.9], [237.5, 429.1]],
];
const fanFills = ["#e7e7e7", "#cfe0ea", "#d3e9e1", "#d2e9cf"];
const fanStrokes = ["#4b87a3", "#4f9a8a", "#63a75a", "#8cab50"];

const lastPrice = 421.35;
const crossPrice = 407.21;
const crossDay = 11;

const legendFont = "'Liberation Sans','Noto Sans CJK SC',sans-serif";
const GREEN = "#53b487";
const RED = "#e95d58";
const GREY = "#7f8791";
const PL = 19;
const PR = 2768;
const MAIN_T = 57;
const MAIN_B = 920;
const VOL_T = 922;
const VOL_B = 1271;
const MACD_T = 1274;
const MACD_B = 1745;

const App: React.FC = () => {
  const svgRef = useRef<SVGSVGElement | null>(null);

  useEffect(() => {
    if (!svgRef.current) return;
    const svg = d3.select(svgRef.current);
    svg.selectAll("*").remove();

    const x = d3.scaleLinear().domain([0, 218]).range([24.8, 2542.9]);
    const dayX = d3.scaleLinear().domain([6, 15]).range([x(11.16), x(227.14)]);
    const yPrice = d3.scaleLinear().domain([370, 440]).range([824, 90]);
    const yVol = d3.scaleLinear().domain([0, 250]).range([1253.2, 932.7]);
    const yMacd = d3.scaleLinear().domain([0, 10]).range([1570.5, 1291]);

    const defs = svg.append("defs");
    const clip = (id: string, t: number, b: number) =>
      defs.append("clipPath").attr("id", id).append("rect")
        .attr("x", PL).attr("y", t).attr("width", PR - PL).attr("height", b - t);
    clip("clip-main", MAIN_T, MAIN_B);
    clip("clip-vol", VOL_T, VOL_B);
    clip("clip-macd", MACD_T, MACD_B);

    const txt = (g: any, px: number, py: number, s: string, size: number, fill: string, anchor = "start", weight = "normal") =>
      g.append("text")
        .attr("x", px).attr("y", py)
        .attr("dominant-baseline", "central")
        .attr("text-anchor", anchor)
        .attr("font-family", legendFont)
        .attr("font-size", size)
        .attr("font-weight", weight)
        .attr("fill", fill)
        .text(s);

    svg.append("rect").attr("width", 2880).attr("height", 1800).attr("fill", "#ffffff");

    // toolbar
    const bar = svg.append("g");
    const barX = [12, 92, 170, 248, 338, 430, 515, 601, 677, 770];
    bar.append("rect").attr("x", 418).attr("y", 0).attr("width", 84).attr("height", 46).attr("fill", "#f1f3fa");
    toolbarLabels.forEach((t, i) => txt(bar, barX[i], 25, t, 24, t === "1hour" ? "#2962ff" : GREY));
    [79, 844, 908, 972, 1036].forEach((sx) =>
      bar.append("line").attr("x1", sx).attr("x2", sx).attr("y1", 0).attr("y2", 46).attr("stroke", "#e3e6ec").attr("stroke-width", 2));
    bar.append("rect").attr("x", 0).attr("y", 46).attr("width", 2880).attr("height", 3).attr("fill", "#e9edf1");
    const icon = bar.append("g").attr("fill", "none").attr("stroke", "#848b95").attr("stroke-width", 2.5);
    icon.append("path").attr("d", "M863 37V10H893V37ZM871 31L877 20V28L884 15");
    icon.append("path").attr("d", "M940 8L955 17V34L940 42L926 34V17Z");
    icon.append("circle").attr("cx", 940).attr("cy", 25).attr("r", 5);
    icon.append("path").attr("d", "M989 18V10H997M1008 10H1016V18M1016 29V37H1008M997 37H989V29");
    icon.append("circle").attr("cx", 1002).attr("cy", 24).attr("r", 4.5);

    // fan backgrounds
    const main = svg.append("g").attr("clip-path", "url(#clip-main)");
    main.append("rect").attr("x", PL).attr("y", MAIN_T).attr("width", PR - PL).attr("height", MAIN_B - MAIN_T).attr("fill", "#e2ebd0");
    const poly = d3.line();
    const rayPts = (r: [Pt, Pt]): [number, number][] => [[x(r[0][0]), yPrice(r[0][1])], [x(r[1][0]), yPrice(r[1][1])]];
    [3, 2, 1, 0].forEach((k) => {
      const [a, b] = rayPts(fanRays[k]);
      const pts: [number, number][] = k === 3
        ? [a, b, [PR, MAIN_T], [PL, MAIN_T], [PL, MAIN_B]]
        : k === 2
          ? [a, b, [PL, MAIN_T], [PL, MAIN_B]]
          : [a, b, [PL, MAIN_T]];
      main.append("path").attr("d", poly(pts) + "Z").attr("fill", fanFills[k]);
    });

    // grid
    const grid = svg.append("g").attr("stroke", "rgba(42,46,57,0.03)").attr("stroke-width", 2);
    dayTicks.forEach((d) => grid.append("line").attr("x1", dayX(d)).attr("x2", dayX(d)).attr("y1", MAIN_T).attr("y2", MACD_B));
    priceTicks.forEach((v) => grid.append("line").attr("x1", PL).attr("x2", PR).attr("y1", yPrice(v)).attr("y2", yPrice(v)));
    volumeTicks.forEach((v) => grid.append("line").attr("x1", PL).attr("x2", PR).attr("y1", yVol(v)).attr("y2", yVol(v)));
    macdTicks.forEach((v) => grid.append("line").attr("x1", PL).attr("x2", PR).attr("y1", yMacd(v)).attr("y2", yMacd(v)));

    fanRays.forEach((r, k) => {
      const [a, b] = rayPts(r);
      main.append("line").attr("x1", a[0]).attr("y1", a[1]).attr("x2", b[0]).attr("y2", b[1])
        .attr("stroke", fanStrokes[k]).attr("stroke-width", 1.6);
    });

    // bollinger band and moving averages
    const priceLine = d3.line<Pt>().x((d) => x(d[0])).y((d) => yPrice(d[1]));
    main.append("path").attr("d", priceLine([...bbUpper, ...[...bbLower].reverse()]) + "Z")
      .attr("fill", "rgb(50,50,130)").attr("fill-opacity", 0.13);
    const drawLine = (pts: Pt[], color: string, w: number, op = 1) =>
      main.append("path").attr("d", priceLine(pts)).attr("fill", "none").attr("stroke", color)
        .attr("stroke-width", w).attr("stroke-opacity", op).attr("stroke-linejoin", "round");
    drawLine(ma60, "#b06aa8", 1.6, 0.85);
    drawLine(ma30, "#86b884", 1.6, 0.85);
    drawLine(bbBasis, "#d9605a", 1.5, 0.9);
    drawLine(ma15, "#9db5d8", 3.6, 0.9);
    drawLine(ma7, "#9a80c2", 3.6, 0.95);
    drawLine(bbUpper, "#5a6fe0", 1.6, 0.95);
    drawLine(bbLower, "#5a6fe0", 1.6, 0.95);

    // last price line
    main.append("line").attr("x1", PL).attr("x2", PR).attr("y1", yPrice(lastPrice)).attr("y2", yPrice(lastPrice))
      .attr("stroke", "#53b987").attr("stroke-width", 1.5).attr("stroke-opacity", 0.6).attr("stroke-dasharray", "1.5 1");

    // candles
    const candles = main.append("g");
    opens.forEach((o, i) => {
      const c = closes[i];
      const col = c >= o ? GREEN : RED;
      const cx = x(i);
      candles.append("rect").attr("x", cx - 1).attr("width", 2)
        .attr("y", yPrice(highs[i])).attr("height", yPrice(lows[i]) - yPrice(highs[i])).attr("fill", col);
      const top = yPrice(Math.max(o, c));
      const h = Math.max(2, Math.abs(yPrice(o) - yPrice(c)));
      candles.append("rect").attr("x", cx - 5).attr("width", 10).attr("y", top).attr("height", h).attr("fill", col);
    });

    // volume
    const vol = svg.append("g").attr("clip-path", "url(#clip-vol)");
    vol.selectAll("rect").data(volumes).enter().append("rect")
      .attr("x", (_, i) => x(i) - 5)
      .attr("width", 10)
      .attr("y", (d) => yVol(d))
      .attr("height", (d) => yVol(0) - yVol(d) + 0.6)
      .attr("fill", (_, i) => (closes[i] >= opens[i] ? "#b7e3d4" : "#f5c3c3"));

    // macd
    const macd = svg.append("g").attr("clip-path", "url(#clip-macd)");
    macd.selectAll("rect").data(macdHist).enter().append("rect")
      .attr("x", (_, i) => x(i) - 1)
      .attr("width", 2)
      .attr("y", (d) => Math.min(yMacd(d), yMacd(0)))
      .attr("height", (d) => Math.abs(yMacd(d) - yMacd(0)))
      .attr("fill", "#ef5350");
    const macdPath = d3.line<Pt>().x((d) => x(d[0])).y((d) => yMacd(d[1]));
    macd.append("path").attr("d", macdPath(macdLine)).attr("fill", "none").attr("stroke", "#7a84f5").attr("stroke-width", 1.6);
    macd.append("path").attr("d", macdPath(macdSignal)).attr("fill", "none").attr("stroke", "#f0736f").attr("stroke-width", 1.6);

    // crosshair
    const cross = svg.append("g").attr("stroke", "#8d9bba").attr("stroke-width", 2).attr("stroke-dasharray", "14 10");
    cross.append("line").attr("x1", PL).attr("x2", PR).attr("y1", yPrice(crossPrice)).attr("y2", yPrice(crossPrice));
    cross.append("line").attr("x1", dayX(crossDay)).attr("x2", dayX(crossDay)).attr("y1", MAIN_T).attr("y2", MACD_B);

    // pane borders
    const borders = svg.append("g").attr("fill", "#858c94");
    borders.append("rect").attr("x", PL).attr("y", 920).attr("width", PR + 3 - PL).attr("height", 2.5);
    borders.append("rect").attr("x", PL).attr("y", 1271).attr("width", PR + 3 - PL).attr("height", 2.5);
    borders.append("rect").attr("x", PL).attr("y", MACD_B - 1).attr("width", PR + 3 - PL).attr("height", 2.5);
    borders.append("rect").attr("x", PR + 1.5).attr("y", 48).attr("width", 2.5).attr("height", MACD_B - 47);

    // axes
    const styleAxis = (g: any) => {
      g.select(".domain").remove();
      g.selectAll("line").attr("stroke", "#858c94").attr("stroke-width", 2);
      g.selectAll("text").attr("fill", "#868d97").attr("font-family", legendFont).attr("font-size", 22);
    };
    const axisX = PR + 4;
    svg.append("g").attr("transform", `translate(${axisX},0)`)
      .call(d3.axisRight(yPrice).tickValues(priceTicks).tickSize(5).tickPadding(7).tickFormat((d) => (d as number).toFixed(2)) as any)
      .call(styleAxis);
    svg.append("g").attr("transform", `translate(${axisX},0)`)
      .call(d3.axisRight(yVol).tickValues(volumeTicks).tickSize(5).tickPadding(7).tickFormat((d) => ((d as number) === 0 ? "0" : `${d}K`)) as any)
      .call(styleAxis);
    svg.append("g").attr("transform", `translate(${axisX},0)`)
      .call(d3.axisRight(yMacd).tickValues(macdTicks).tickSize(5).tickPadding(7).tickFormat((d) => (d as number).toFixed(4)) as any)
      .call(styleAxis);
    // the date badge covers the label of the crosshair's day
    svg.append("g").attr("transform", `translate(0,${MACD_B})`)
      .call(d3.axisBottom(dayX).tickValues(dayTicks).tickSize(6).tickPadding(14).tickFormat((d) => ((d as number) === crossDay ? "" : String(d))) as any)
      .call(styleAxis);

    // axis badges
    const badge = (py: number, s: string, fill: string) => {
      svg.append("rect").attr("x", PR + 3).attr("y", py - 17).attr("width", 87).attr("height", 34).attr("fill", fill);
      txt(svg, PR + 16, py, s, 23, "#ffffff", "start", "bold");
    };
    badge(yPrice(lastPrice), lastPrice.toFixed(2), "#53b987");
    badge(yPrice(crossPrice), crossPrice.toFixed(2), "#4c525e");
    svg.append("rect").attr("x", 1434).attr("y", 1746).attr("width", 208).attr("height", 43).attr("rx", 2).attr("fill", "#4c525e");
    txt(svg, 1538, 1767, "2020-08-11 · 00:00", 22, "#ffffff", "middle");

    // legend
    const legend = svg.append("g");
    const arrow = (px: number, py: number) =>
      legend.append("path").attr("d", `M${px - 7} ${py - 5}H${px + 7}L${px} ${py + 7}Z`).attr("fill", "#c4c4c4");
    const buttons = (x1: number, x2: number, py: number, bg: string) => {
      [x1, x2].forEach((bx) => legend.append("rect").attr("x", bx).attr("y", py - 14).attr("width", 28).attr("height", 28).attr("fill", bg));
      legend.append("circle").attr("cx", x1 + 14).attr("cy", py).attr("r", 6).attr("fill", "none").attr("stroke", "#ffffff")
        .attr("stroke-width", 5).attr("stroke-dasharray", "3.4 2.9");
      legend.append("path").attr("d", `M${x2 + 7} ${py - 8}L${x2 + 21} ${py + 8}M${x2 + 21} ${py - 8}L${x2 + 7} ${py + 8}`)
        .attr("stroke", "#ffffff").attr("stroke-width", 2.5);
    };
    legend.append("rect").attr("x", 29).attr("y", 82).attr("width", 24).attr("height", 24).attr("rx", 2).attr("fill", "none").attr("stroke", GREY).attr("stroke-width", 2);
    legend.append("line").attr("x1", 34).attr("x2", 48).attr("y1", 94).attr("y2", 94).attr("stroke", GREY).attr("stroke-width", 2);
    txt(legend, 66, 93, "ETH/USDT, 60, Huobi", 33, GREY);
    arrow(409, 93);
    txt(legend, 447, 93, "开=", 29, GREY);
    txt(legend, 496, 93, "396.74", 29, "#ef5350");
    txt(legend, 606, 93, "高=", 29, GREY);
    txt(legend, 655, 93, "397.60", 29, "#ef5350");
    txt(legend, 765, 93, "低=", 29, GREY);
    txt(legend, 815, 93, "392.92", 29, "#ef5350");
    txt(legend, 925, 93, "收=", 29, GREY);
    txt(legend, 974, 93, "394.06", 29, "#ef5350");
    txt(legend, 1088, 93, "-2.68 (-0.68%)", 30, "#ef5350");

    const btnBg = "rgba(90,100,110,0.2)";
    txt(legend, 27, 133, "MA (7, close, 0)", 24, GREY);
    arrow(210, 133);
    buttons(239, 273, 133, btnBg);
    txt(legend, 317, 133, "393.76", 23, "#8a5cb8");
    txt(legend, 27, 173, "MA (15, close, 0)", 24, GREY);
    arrow(222, 173);
    buttons(251, 285, 173, btnBg);
    txt(legend, 329, 173, "394.70", 23, "#7f9fd0");
    txt(legend, 27, 213, "MA (30, close, 0)", 24, GREY);
    arrow(222, 213);
    buttons(251, 285, 213, btnBg);
    txt(legend, 329, 213, "392.03", 23, "#62a85a");
    txt(legend, 27, 253, "MA (60, close, 0)", 24, GREY);
    arrow(222, 253);
    buttons(251, 285, 253, btnBg);
    txt(legend, 329, 253, "391.15", 23, "#ab2a85");
    txt(legend, 27, 293, "BB (20, 2)", 24, GREY);
    arrow(150, 293);
    buttons(178, 212, 293, btnBg);
    txt(legend, 255, 293, "393.7295", 23, "#ff1a1a");
    txt(legend, 374, 293, "398.8839", 23, "#0000ff");
    txt(legend, 490, 293, "388.5751", 23, "#0000ff");

    txt(legend, 27, 952, "Volume (20)", 24, GREY);
    arrow(173, 952);
    buttons(201, 234, 950, "#d9d9d9");
    txt(legend, 278, 952, "37.452K", 23, "#ef5350");

    txt(legend, 27, 1304, "MACD (12, 26, close, 9)", 24, GREY);
    arrow(295, 1304);
    buttons(323, 357, 1302, "#d9d9d9");
    txt(legend, 401, 1304, "-0.0042", 23, "#ff2a1a");
    txt(legend, 501, 1304, "0.9823", 23, "#0000ff");
    txt(legend, 592, 1304, "0.9865", 23, "#ff2a1a");

    // scale buttons
    [2696, 2730].forEach((bx) => svg.append("rect").attr("x", bx).attr("y", 100).attr("width", 28).attr("height", 28).attr("fill", "rgba(80,90,100,0.16)"));
    svg.append("path").attr("d", "M2710 105V121M2704 115L2710 122L2716 115").attr("fill", "none").attr("stroke", "#dcebd9").attr("stroke-width", 3);
    svg.append("path").attr("d", "M2744 105V123M2738 111L2744 104L2750 111M2738 117L2744 124L2750 117").attr("fill", "none").attr("stroke", "#dcebd9").attr("stroke-width", 3);

    // watermark
    const mark = svg.append("g");
    mark.append("circle").attr("cx", 77).attr("cy", 859).attr("r", 32.5).attr("fill", "#ffffff").attr("stroke", "#c6d6d0").attr("stroke-width", 1.5);
    const cloud = mark.append("g").attr("fill", "#58a8e8");
    cloud.append("circle").attr("cx", 65).attr("cy", 863).attr("r", 8);
    cloud.append("circle").attr("cx", 78).attr("cy", 857).attr("r", 9.5);
    cloud.append("circle").attr("cx", 90).attr("cy", 863).attr("r", 8);
    cloud.append("rect").attr("x", 60).attr("y", 863).attr("width", 37).attr("height", 8).attr("rx", 3);
    mark.append("path").attr("d", "M58 866L70 855L81 866L89 859L99 868").attr("fill", "none").attr("stroke", "#ffffff").attr("stroke-width", 3);
    txt(mark, 131, 863, "Chart by TradingView", 27.6, "#5aa5e4")
      .attr("stroke", "#ffffff").attr("stroke-width", 4).attr("paint-order", "stroke");

    svg.append("path").attr("d", "M5 1650L9 1657L5 1664").attr("fill", "none").attr("stroke", "#b9bec4").attr("stroke-width", 1.5);
  }, []);

  return (
    <svg
      ref={svgRef}
      width={2880}
      height={1800}
      style={{ position: "absolute", left: 0, top: 0, display: "block" }}
    ></svg>
  );
};

export default App;
